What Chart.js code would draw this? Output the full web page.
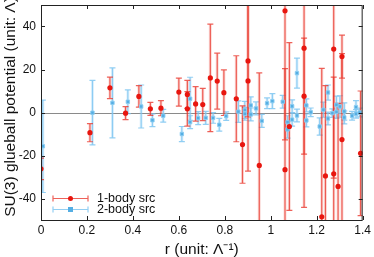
<!DOCTYPE html>
<html>
<head>
<meta charset="utf-8">
<script src="https://cdn.jsdelivr.net/npm/chart.js@4.4.1/dist/chart.umd.min.js"></script>
<style>
  html, body { margin: 0; padding: 0; background: #fff; }
  #boite { width: 374px; height: 257px; }
</style>
</head>
<body>
<div id="boite"><canvas id="potentiel"></canvas></div>
<script>
// tick labels
const xTicks = [0, 0.2, 0.4, 0.6, 0.8, 1, 1.2, 1.4];
const yTicks = [-40, -20, 0, 20, 40];
const yTitle = "SU(3) glueball potential (unit: Λ)";

// 1-body src : r, V, error
const oneBodyR = [0, 0.213, 0.30, 0.368, 0.426, 0.476, 0.522, 0.60, 0.637, 0.637, 0.673, 0.704,
  0.737, 0.767, 0.796, 0.85, 0.877, 0.901, 0.901, 0.95, 1.062, 1.062, 1.081, 1.145, 1.145,
  1.222, 1.238, 1.274, 1.274, 1.293, 1.31, 1.31, 1.391];
const oneBodyV = [-26.2, -9.4, 11.5, -0.3, 7.5, 1.7, 2.0, 9.5, 8.4, 1.7, 4.0, 3.7,
  16.1, 14.6, 9.2, 6.4, -14.9, 24.0, 14.7, -24.6, 47.3, -26.6, -6.5, 29.9, 7.6,
  -48.5, -29.5, 29.5, -28.5, -34.4, 26.0, -12.6, -19.0];
const oneBodyErr = [5, 4.2, 5, 3, 5, 3, 3.5, 6.5, 6.5, 8, 8, 7.5,
  25, 13, 10.6, 20, 18, 26, 42, 43, 60, 47, 39, 74, 27,
  69, 42, 60, 45, 38.6, 10, 40, 29];

// 2-body src : r, V, error
const twoBodyR = [0.008, 0.224, 0.311, 0.378, 0.436, 0.485, 0.532, 0.613, 0.649, 0.649, 0.684, 0.717,
  0.749, 0.776, 0.806, 0.859, 0.887, 0.887, 0.913, 0.913, 0.936, 0.961, 0.984, 1.007,
  1.052, 1.073, 1.073, 1.093, 1.093, 1.114, 1.114, 1.155, 1.155, 1.174, 1.213, 1.229,
  1.249, 1.249, 1.268, 1.286, 1.286, 1.301, 1.32, 1.32, 1.354, 1.371, 1.371, 1.387];
const twoBodyV = [-15.7, -0.1, 4.5, 5.0, 2.8, -3.6, -1.5, -10, 6.4, -4.5, -2.6, -2.5,
  -2.5, -5.7, -1.7, 0.4, 1.2, -0.6, 3.3, -0.9, 1.9, -3.9, 4.3, 5.3,
  5.0, -4.5, -7.9, 2.9, -3.3, 18.3, -1.4, 3.3, -3.7, 0.1, -6.5, 1.3,
  9.3, -2.8, -0.3, 3.6, 0.3, 2.8, 0.5, -2.3, -1.5, 2.5, -0.6, 0];
const twoBodyErr = [21.5, 15, 16.3, 5.5, 10, 3, 3, 3.5, 10, 3, 3, 3,
  2.5, 3, 2, 5, 4, 3, 4, 3, 3, 3, 2.5, 3.5,
  3, 3, 4, 3, 3, 7, 3, 3, 3, 2, 4, 3.5,
  3.5, 3, 2, 4, 3, 5, 4, 3, 2, 3, 2, 2];

const errs = [oneBodyErr, twoBodyErr];
const barColors = ["rgba(232,45,35,0.75)", "rgba(120,195,240,0.8)"];
const haloColors = ["rgba(240,110,100,0.25)", "rgba(150,210,245,0.3)"];
const police = "'Liberation Sans', Arial, sans-serif";

const points = (xs, ys) => xs.map((x, i) => ({ x: x, y: ys[i] }));

// error bars + zero line, drawn with the scales
const barresErreur = {
  id: "barresErreur",
  beforeDatasetsDraw(chart) {
    const ctx = chart.ctx;
    const a = chart.chartArea;
    const ys = chart.scales.y;
    ctx.save();
    ctx.beginPath();
    ctx.rect(a.left, a.top, a.right - a.left, a.bottom - a.top);
    ctx.clip();

    const y0 = Math.round(ys.getPixelForValue(0)) + 0.5;
    ctx.strokeStyle = "#8a8a8a";
    ctx.lineWidth = 1;
    ctx.beginPath();
    ctx.moveTo(a.left, y0);
    ctx.lineTo(a.right, y0);
    ctx.stroke();

    for (let d = chart.data.datasets.length - 1; d >= 0; d--) {
      const meta = chart.getDatasetMeta(d);
      const ds = chart.data.datasets[d];
      meta.data.forEach((el, i) => {
        const v = ds.data[i].y;
        const e = errs[d][i];
        const top = ys.getPixelForValue(v + e);
        const bot = ys.getPixelForValue(v - e);
        const x = el.x;
        ctx.strokeStyle = haloColors[d];
        ctx.lineWidth = 3;
        ctx.beginPath();
        ctx.moveTo(x, top);
        ctx.lineTo(x, bot);
        ctx.stroke();
        ctx.strokeStyle = barColors[d];
        ctx.lineWidth = 1.2;
        ctx.beginPath();
        ctx.moveTo(x, top);
        ctx.lineTo(x, bot);
        ctx.moveTo(x - 3, top);
        ctx.lineTo(x + 3, top);
        ctx.moveTo(x - 3, bot);
        ctx.lineTo(x + 3, bot);
        ctx.stroke();
      });
    }
    ctx.restore();
  },
  afterDraw(chart) {
    const ctx = chart.ctx;
    const a = chart.chartArea;
    const xs = chart.scales.x;
    const ys = chart.scales.y;
    ctx.save();
    // frame
    ctx.strokeStyle = "#222";
    ctx.lineWidth = 1;
    ctx.strokeRect(a.left + 0.5, a.top + 0.5, a.right - a.left - 1, a.bottom - a.top);
    // inward ticks, mirrored
    ctx.beginPath();
    xTicks.forEach((t) => {
      const px = Math.round(xs.getPixelForValue(t)) + 0.5;
      ctx.moveTo(px, a.bottom);
      ctx.lineTo(px, a.bottom - 4);
      ctx.moveTo(px, a.top);
      ctx.lineTo(px, a.top + 4);
    });
    yTicks.forEach((t) => {
      const py = Math.round(ys.getPixelForValue(t)) + 0.5;
      ctx.moveTo(a.left, py);
      ctx.lineTo(a.left + 4, py);
      ctx.moveTo(a.right, py);
      ctx.lineTo(a.right - 4, py);
    });
    ctx.stroke();

    // y title (a bit above the plot centre, runs off the top like the original)
    ctx.save();
    ctx.translate(11, 107);
    ctx.rotate(-Math.PI / 2);
    ctx.fillStyle = "#111";
    ctx.font = "15.5px " + police;
    ctx.textAlign = "center";
    ctx.textBaseline = "middle";
    ctx.fillText(yTitle, 0, 0);
    ctx.restore();

    // legend
    const items = chart.data.datasets;
    items.forEach((ds, d) => {
      const ly = 198.5 + d * 11;
      const x1 = 53, x2 = 88, xm = 70.5;
      ctx.strokeStyle = barColors[d];
      ctx.lineWidth = 1.2;
      ctx.beginPath();
      ctx.moveTo(x1, ly);
      ctx.lineTo(x2, ly);
      ctx.moveTo(x1, ly - 3);
      ctx.lineTo(x1, ly + 3);
      ctx.moveTo(x2, ly - 3);
      ctx.lineTo(x2, ly + 3);
      ctx.stroke();
      ctx.fillStyle = ds.backgroundColor;
      if (d === 0) {
        ctx.beginPath();
        ctx.arc(xm, ly, 2.5, 0, Math.PI * 2);
        ctx.fill();
      } else {
        ctx.fillRect(xm - 2.5, ly - 2.5, 5, 5);
      }
      ctx.fillStyle = "#111";
      ctx.font = "12.5px " + police;
      ctx.textBaseline = "middle";
      ctx.textAlign = "left";
      ctx.fillText(ds.label, 97, ly);
    });
    ctx.restore();
  },
};

const graphique = new Chart(document.getElementById("potentiel"), {
  type: "scatter",
  data: {
    datasets: [
      {
        label: "1-body src",
        data: points(oneBodyR, oneBodyV),
        pointStyle: "circle",
        pointRadius: 2.6,
        backgroundColor: "#e8160f",
        borderWidth: 0,
      },
      {
        label: "2-body src",
        data: points(twoBodyR, twoBodyV),
        pointStyle: "rect",
        pointRadius: 2.4,
        backgroundColor: "#55aee3",
        borderColor: "rgba(140,205,242,0.9)",
        borderWidth: 1,
      },
    ],
  },
  options: {
    responsive: true,
    maintainAspectRatio: false,
    animation: false,
    layout: { padding: { top: 5, right: 11, left: 0, bottom: 0 } },
    plugins: {
      title: { display: false },
      legend: { display: false },
      tooltip: { enabled: false },
    },
    scales: {
      x: {
        type: "linear",
        min: 0,
        max: 1.4,
        grid: { display: false, drawTicks: false },
        border: { display: false },
        afterBuildTicks: (s) => { s.ticks = xTicks.map((v) => ({ value: v })); },
        afterFit: (s) => { s.height = 37; },
        ticks: {
          color: "#111",
          padding: 3,
          maxRotation: 0,
          font: { family: police, size: 12 },
          callback: (v) => String(Number(v.toFixed(1))),
        },
        title: {
          display: true,
          text: "r (unit: Λ⁻¹)",
          color: "#111",
          padding: { top: 0, bottom: 0 },
          font: { family: police, size: 15.5, lineHeight: 1 },
        },
      },
      y: {
        type: "linear",
        min: -50,
        max: 50,
        grid: { display: false, drawTicks: false },
        border: { display: false },
        afterBuildTicks: (s) => { s.ticks = yTicks.map((v) => ({ value: v })); },
        afterFit: (s) => {
          s.width = 41;
          s.paddingTop = 0;
          s.paddingBottom = 0;
        },
        ticks: {
          color: "#111",
          padding: 5,
          font: { family: police, size: 12 },
        },
        title: { display: false },
      },
    },
  },
  plugins: [barresErreur],
});
</script>
</body>
</html>
